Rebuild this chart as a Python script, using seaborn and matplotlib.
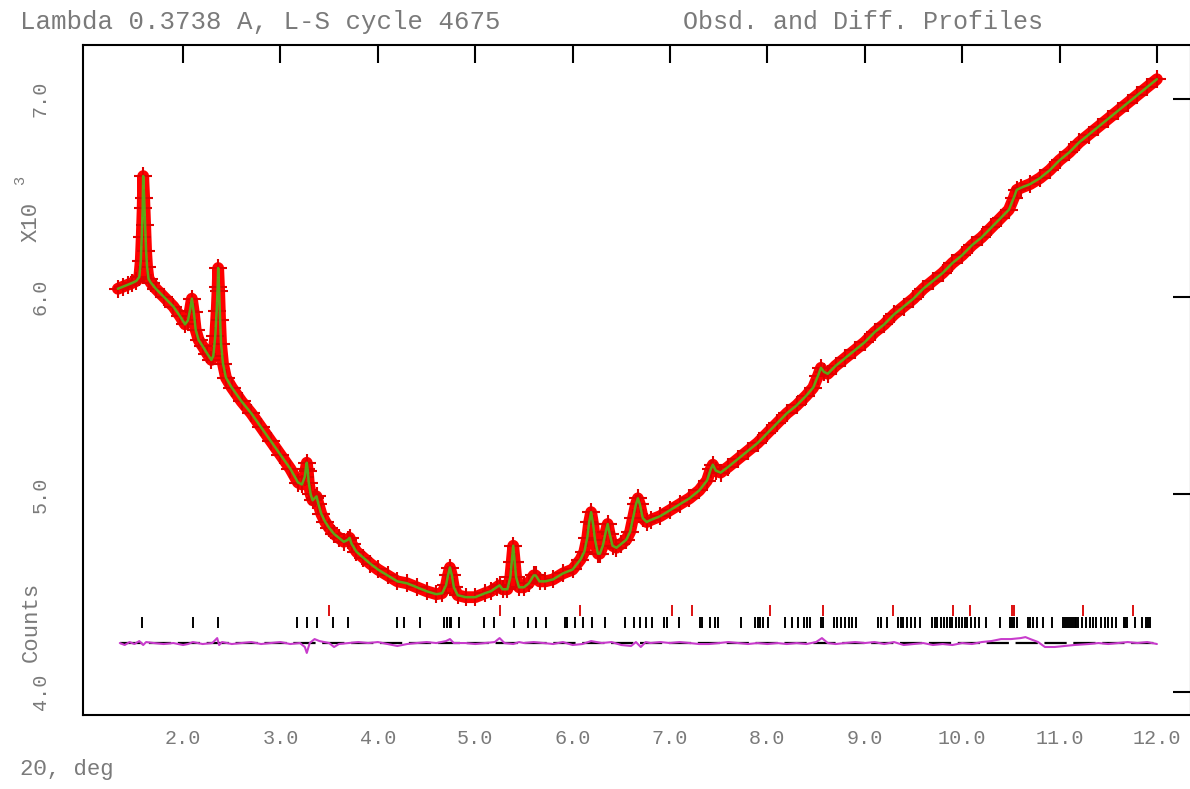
import numpy as np
import pandas as pd
import matplotlib
matplotlib.use("Agg")
import matplotlib.pyplot as plt
import seaborn as sns

# ---------------- data (values in units of 10^3 counts) ----------------
obs_x = [1.33, 1.38, 1.43, 1.48, 1.52, 1.55, 1.565, 1.575, 1.585, 1.59, 1.60, 1.61, 1.62, 1.63, 1.645,
         1.67, 1.72, 1.80, 1.90, 1.97, 2.02, 2.05, 2.07, 2.09, 2.11, 2.13, 2.16, 2.20, 2.25, 2.29,
         2.31, 2.33, 2.345, 2.355, 2.36, 2.37, 2.38, 2.39, 2.41, 2.44, 2.50, 2.60, 2.70, 2.80, 2.90,
         3.00, 3.10, 3.18, 3.22, 3.25, 3.26, 3.27, 3.28, 3.29, 3.31, 3.33, 3.35, 3.37, 3.39, 3.42,
         3.46, 3.50, 3.55, 3.60, 3.65, 3.69, 3.71, 3.73, 3.78, 3.85, 3.92, 4.00, 4.10, 4.20, 4.30,
         4.40, 4.50, 4.60, 4.66, 4.70, 4.72, 4.74, 4.76, 4.78, 4.82, 4.90, 5.00, 5.10, 5.16, 5.22,
         5.25, 5.28, 5.33, 5.36, 5.375, 5.39, 5.405, 5.42, 5.45, 5.50, 5.55, 5.60, 5.62, 5.66, 5.72,
         5.80, 5.90, 6.00, 6.08, 6.12, 6.15, 6.17, 6.19, 6.21, 6.23, 6.26, 6.28, 6.31, 6.34, 6.36,
         6.38, 6.41, 6.45, 6.50, 6.55, 6.59, 6.62, 6.65, 6.67, 6.69, 6.72, 6.76, 6.80, 6.90, 7.00,
         7.10, 7.20, 7.30, 7.38, 7.42, 7.44, 7.47, 7.52, 7.60, 7.70, 7.80, 7.90, 8.00, 8.10, 8.20,
         8.30, 8.40, 8.47, 8.52, 8.55, 8.58, 8.62, 8.70, 8.80, 8.90, 9.00, 9.10, 9.20, 9.30, 9.40,
         9.50, 9.60, 9.70, 9.80, 9.90, 10.00, 10.10, 10.20, 10.30, 10.40, 10.48, 10.53, 10.56, 10.60, 10.70,
         10.80, 10.90, 11.00, 11.10, 11.20, 11.30, 11.40, 11.50, 11.60, 11.70, 11.80, 11.90, 12.00]
obs_y = [6.04, 6.05, 6.06, 6.07, 6.08, 6.10, 6.18, 6.30, 6.45, 6.61, 6.50, 6.36, 6.23, 6.15, 6.09,
         6.07, 6.04, 6.00, 5.95, 5.90, 5.86, 5.88, 5.93, 5.99, 5.92, 5.83, 5.78, 5.75, 5.71, 5.68,
         5.70, 5.80, 5.93, 6.05, 6.145, 6.03, 5.88, 5.76, 5.66, 5.59, 5.54, 5.47, 5.41, 5.34, 5.27,
         5.20, 5.13, 5.06, 5.05, 5.09, 5.13, 5.16, 5.12, 5.06, 5.00, 4.97, 4.98, 4.99, 4.95, 4.90,
         4.86, 4.83, 4.80, 4.78, 4.76, 4.77, 4.78, 4.75, 4.71, 4.68, 4.65, 4.62, 4.59, 4.56, 4.55,
         4.53, 4.51, 4.495, 4.50, 4.54, 4.59, 4.63, 4.59, 4.53, 4.49, 4.48, 4.48, 4.50, 4.51, 4.53,
         4.54, 4.52, 4.52, 4.58, 4.66, 4.74, 4.66, 4.58, 4.53, 4.53, 4.55, 4.59, 4.59, 4.56, 4.56,
         4.57, 4.60, 4.62, 4.67, 4.71, 4.78, 4.86, 4.91, 4.85, 4.77, 4.70, 4.70, 4.74, 4.81, 4.85,
         4.80, 4.74, 4.73, 4.75, 4.77, 4.81, 4.88, 4.95, 4.98, 4.95, 4.88, 4.86, 4.87, 4.89, 4.92,
         4.95, 4.98, 5.02, 5.07, 5.13, 5.15, 5.12, 5.11, 5.14, 5.18, 5.22, 5.26, 5.31, 5.36, 5.41,
         5.45, 5.50, 5.54, 5.60, 5.64, 5.62, 5.61, 5.65, 5.69, 5.73, 5.77, 5.82, 5.86, 5.91, 5.95,
         5.99, 6.04, 6.08, 6.12, 6.17, 6.21, 6.26, 6.30, 6.35, 6.40, 6.44, 6.50, 6.54, 6.55, 6.57,
         6.60, 6.64, 6.69, 6.73, 6.78, 6.82, 6.86, 6.90, 6.94, 6.98, 7.02, 7.06, 7.10]

diff_x = [1.35, 1.40, 1.45, 1.50, 1.55, 1.59, 1.62, 1.70, 1.80, 1.90, 2.00, 2.05, 2.10, 2.20, 2.30,
          2.35, 2.37, 2.40, 2.50, 2.60, 2.70, 2.80, 2.90, 3.00, 3.10, 3.20, 3.25, 3.27, 3.30, 3.35,
          3.40, 3.50, 3.55, 3.60, 3.70, 3.80, 3.90, 4.00, 4.10, 4.20, 4.30, 4.40, 4.50, 4.60, 4.70,
          4.74, 4.78, 4.90, 5.00, 5.10, 5.20, 5.25, 5.30, 5.39, 5.45, 5.50, 5.60, 5.70, 5.80, 5.90,
          6.00, 6.10, 6.19, 6.30, 6.40, 6.50, 6.60, 6.65, 6.70, 6.75, 6.80, 6.90, 7.00, 7.10, 7.20,
          7.30, 7.40, 7.50, 7.60, 7.70, 7.80, 7.90, 8.00, 8.10, 8.20, 8.30, 8.40, 8.50, 8.56, 8.62,
          8.70, 8.80, 8.90, 9.00, 9.10, 9.20, 9.30, 9.40, 9.50, 9.60, 9.70, 9.80, 9.90, 10.00, 10.10,
          10.20, 10.30, 10.40, 10.50, 10.60, 10.65, 10.70, 10.78, 10.85, 10.95, 11.05, 11.15, 11.30, 11.40, 11.50,
          11.60, 11.70, 11.80, 11.90, 12.00]
diff_y = [0.000, -0.010, 0.005, -0.005, 0.010, -0.010, 0.005, 0.000, -0.005, 0.000, -0.010, -0.005, 0.005, -0.005, 0.000,
          0.025, -0.010, 0.005, -0.005, 0.000, 0.005, -0.005, 0.000, 0.005, -0.005, 0.000, -0.020, -0.050, 0.000, 0.020,
          0.010, 0.000, -0.020, -0.005, 0.000, 0.005, 0.000, 0.005, -0.005, -0.015, -0.005, 0.000, 0.005, 0.000, 0.010,
          0.020, 0.000, 0.000, -0.005, 0.000, 0.005, 0.025, 0.000, -0.005, 0.005, 0.000, 0.005, 0.000, -0.005, 0.005,
          -0.010, -0.005, 0.010, 0.000, 0.005, -0.010, -0.015, 0.005, -0.020, 0.005, 0.000, 0.005, 0.000, 0.005, 0.000,
          -0.005, -0.005, 0.000, 0.005, 0.000, -0.005, 0.000, -0.005, 0.000, -0.005, 0.000, -0.005, 0.005, 0.025, 0.000,
          -0.005, 0.000, 0.005, 0.000, 0.005, -0.005, 0.005, -0.010, -0.005, 0.000, -0.010, -0.005, -0.010, 0.000, -0.005,
          0.005, 0.010, 0.020, 0.020, 0.025, 0.030, 0.020, 0.005, -0.020, -0.020, -0.015, -0.010, -0.005, 0.000, -0.005,
          0.000, 0.005, 0.000, 0.005, -0.005]
diff_offset = 4.248

phase1_ticks = [1.575, 2.105, 2.362, 3.166, 3.268, 3.371, 3.542, 3.697, 4.197, 4.265, 4.430, 4.684, 4.711,
                4.738, 4.752, 4.830, 5.087, 5.190, 5.396, 5.544, 5.626, 5.722, 5.920, 5.938, 6.023, 6.102,
                6.202, 6.332, 6.537, 6.634, 6.692, 6.750, 6.815, 6.943, 6.974, 7.097, 7.310, 7.329, 7.407,
                7.465, 7.492, 7.727, 7.870, 7.901, 7.928, 7.955, 8.005, 8.179, 8.257, 8.315, 8.373, 8.403,
                8.438, 8.546, 8.566, 8.682, 8.713, 8.759, 8.798, 8.836, 8.867, 8.906, 9.138, 9.165, 9.230,
                9.338, 9.369, 9.396, 9.435, 9.474, 9.512, 9.563, 9.686, 9.717, 9.744, 9.783, 9.810, 9.841,
                9.872, 9.899, 9.938, 9.965, 9.995, 10.026, 10.053, 10.092, 10.131, 10.169, 10.247, 10.390,
                10.490, 10.509, 10.536, 10.567, 10.672, 10.699, 10.730, 10.768, 10.826, 10.923, 11.039,
                11.058, 11.077, 11.097, 11.116, 11.135, 11.155, 11.174, 11.193, 11.232, 11.270, 11.309,
                11.348, 11.379, 11.425, 11.464, 11.502, 11.541, 11.580, 11.657, 11.676, 11.696, 11.773,
                11.850, 11.889, 11.908, 11.927]
phase2_ticks = [3.50, 5.25, 6.08, 7.02, 7.23, 8.03, 8.57, 9.29, 9.91, 10.08, 10.51, 10.53, 11.24, 11.75]

xtick_vals = [2, 3, 4, 5, 6, 7, 8, 9, 10, 11, 12]
xtick_labels = ["2.0", "3.0", "4.0", "5.0", "6.0", "7.0", "8.0", "9.0", "10.0", "11.0", "12.0"]
ytick_vals = [4, 5, 6, 7]
ytick_labels = ["4.0", "5.0", "6.0", "7.0"]

# ---------------- style ----------------
sns.set_theme(style="white")
plt.rcParams["font.family"] = ["Liberation Mono", "DejaVu Sans"]
TXT = "#7a7a7a"

W, H = 1190, 789
fig = plt.figure(figsize=(W / 100, H / 100), dpi=100)
L, R, T, B = 83, 1191, 45, 715
ax = fig.add_axes([L / W, 1 - B / H, (R - L) / W, (B - T) / H])

obs = pd.DataFrame({"x": obs_x, "y": obs_y})
dif = pd.DataFrame({"x": diff_x, "y": np.array(diff_y) + diff_offset})

# observed: dense red band + "+" markers
sns.lineplot(data=obs, x="x", y="y", ax=ax, color="#ff0000", linewidth=8.5,
             estimator=None, sort=False, solid_capstyle="round", solid_joinstyle="round", zorder=2)
sns.scatterplot(data=obs, x="x", y="y", ax=ax, marker="+", color="#e00000", s=180,
                linewidth=1.5, zorder=3, legend=False)
# calculated profile
sns.lineplot(data=obs, x="x", y="y", ax=ax, color="#22ee22", linewidth=1.8, alpha=0.7,
             estimator=None, sort=False, zorder=4)

# difference curve and its zero line
ax.plot([diff_x[0], diff_x[-1]], [diff_offset, diff_offset], color="black", linewidth=1.6,
        dashes=(10, 3), zorder=2)
sns.lineplot(data=dif, x="x", y="y", ax=ax, color="#c83ccc", linewidth=1.5,
             estimator=None, sort=False, zorder=3)

# reflection tick marks
ax.vlines(phase1_ticks, 4.324, 4.380, color="black", linewidth=1.4, zorder=2)
ax.vlines(phase2_ticks, 4.385, 4.441, color="#dd1111", linewidth=1.4, zorder=2)

ax.set_xlim(0.972, 12.35)
ax.set_ylim(3.884, 7.273)
ax.set_xlabel("")
ax.set_ylabel("")

for s in ax.spines.values():
    s.set_color("black")
    s.set_linewidth(1.5)

ax.set_xticks(xtick_vals)
ax.set_xticklabels(xtick_labels)
ax.set_yticks(ytick_vals)
ax.set_yticklabels(ytick_labels, rotation=90, va="center")
ax.tick_params(axis="both", which="major", direction="in", length=13, width=1.5,
               color="black", top=True, right=True, labelsize=14.5, labelcolor=TXT)
ax.tick_params(axis="x", pad=10)
ax.tick_params(axis="y", pad=24)

# texts
fig.text(20 / W, 1 - 22 / H, "Lambda 0.3738 A, L-S cycle 4675", fontsize=18.5, color=TXT,
         ha="left", va="center")
fig.text(683 / W, 1 - 22 / H, "Obsd. and Diff. Profiles", fontsize=18, color=TXT,
         ha="left", va="center")
fig.text(20 / W, 1 - 770 / H, "2\u0398, deg", fontsize=16, color=TXT, ha="left", va="center")
fig.text(31 / W, 1 - 222 / H, "X10", fontsize=16, color=TXT, rotation=90, ha="center", va="center")
fig.text(20 / W, 1 - 180 / H, "3", fontsize=11, color=TXT, rotation=90, ha="center", va="center")
fig.text(31 / W, 1 - 622 / H, "Counts", fontsize=16, color=TXT, rotation=90, ha="center", va="center")

fig.savefig("out.png", dpi=100)
